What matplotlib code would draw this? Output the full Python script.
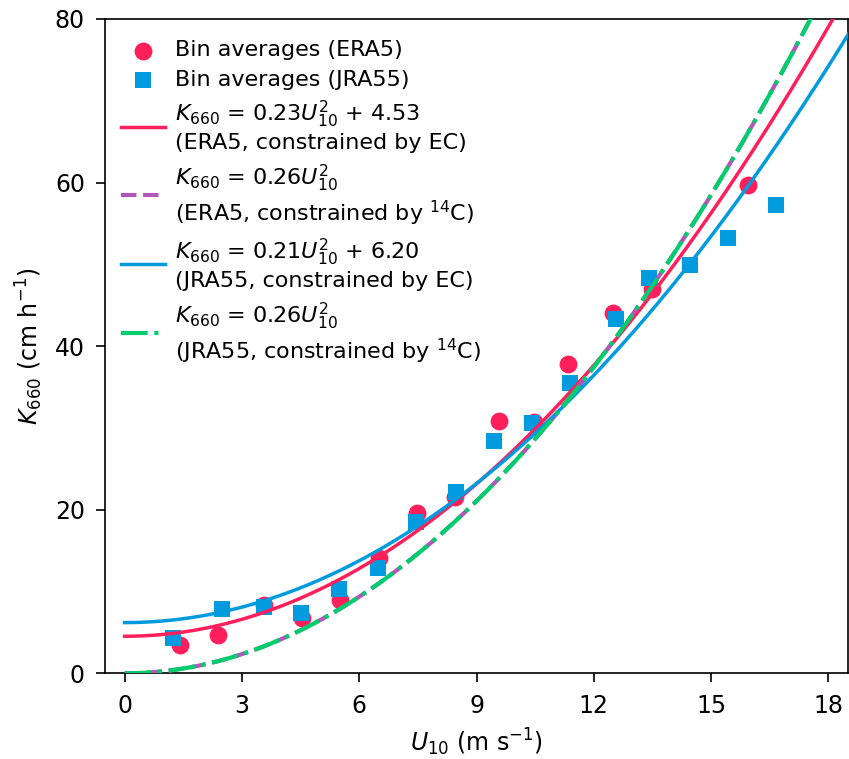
import numpy as np
import matplotlib
matplotlib.use("Agg")
import matplotlib.pyplot as plt

# Bin-averaged transfer velocities
u_era5 = [1.43, 2.38, 3.56, 4.54, 5.52, 6.50, 7.48, 8.46, 9.57, 10.46, 11.35, 12.50, 13.49, 15.95]
k_era5 = [3.46, 4.68, 8.35, 6.72, 8.96, 14.06, 19.56, 21.59, 30.84, 30.76, 37.77, 44.08, 46.94, 59.69]

u_jra55 = [1.24, 2.50, 3.56, 4.52, 5.49, 6.47, 7.46, 8.48, 9.46, 10.42, 11.39, 12.57, 13.40, 14.45, 15.44, 16.66]
k_jra55 = [4.28, 7.82, 8.14, 7.33, 10.27, 12.84, 18.53, 22.20, 28.44, 30.56, 35.53, 43.31, 48.36, 49.91, 53.18, 57.25]

# Quadratic fits K660 = a * U10^2 + b
fit_a = [0.23, 0.26, 0.21, 0.26]
fit_b = [4.53, 0.0, 6.20, 0.0]

C_RED = "#FF1F5B"
C_PURPLE = "#AF58BA"
C_BLUE = "#009ADE"
C_GREEN = "#00CD6C"

plt.rcParams["font.family"] = "DejaVu Sans"
plt.rcParams["mathtext.fontset"] = "dejavusans"

fig = plt.figure(figsize=(8.49, 7.59), dpi=100)
ax = fig.add_axes([0.1237, 0.1129, 0.8751, 0.8621])

u = np.linspace(0, 19, 400)

ax.scatter(u_era5, k_era5, s=165, marker="o", color=C_RED, lw=0,
           label="Bin averages (ERA5)", zorder=2)
ax.scatter(u_jra55, k_jra55, s=120, marker="s", color=C_BLUE, lw=0,
           label="Bin averages (JRA55)", zorder=2)

ax.plot(u, fit_a[0] * u**2 + fit_b[0], color=C_RED, lw=2.5,
        label="$K_{660}$ = 0.23$U_{10}^{2}$ + 4.53\n(ERA5, constrained by EC)", zorder=3)
ax.plot(u, fit_a[1] * u**2 + fit_b[1], color=C_PURPLE, lw=3, ls=(0, (3.7, 1.6)),
        label="$K_{660}$ = 0.26$U_{10}^{2}$\n(ERA5, constrained by $^{14}$C)", zorder=3)
ax.plot(u, fit_a[2] * u**2 + fit_b[2], color=C_BLUE, lw=2.5,
        label="$K_{660}$ = 0.21$U_{10}^{2}$ + 6.20\n(JRA55, constrained by EC)", zorder=3)
ax.plot(u, fit_a[3] * u**2 + fit_b[3], color=C_GREEN, lw=3, ls=(0, (6.4, 1.6, 1.0, 1.6)),
        label="$K_{660}$ = 0.26$U_{10}^{2}$\n(JRA55, constrained by $^{14}$C)", zorder=4)

ax.set_xlim(-0.5, 18.5)
ax.set_ylim(0, 80)
ax.set_xticks([0, 3, 6, 9, 12, 15, 18])
ax.set_yticks([0, 20, 40, 60, 80])
ax.tick_params(labelsize=17, length=6.5, width=1.2)
ax.tick_params(axis="x", pad=8.5)
ax.tick_params(axis="y", pad=8)
for sp in ax.spines.values():
    sp.set_linewidth(1.2)

ax.set_xlabel("$U_{10}$ (m s$^{-1}$)", fontsize=17, labelpad=6)
ax.set_ylabel("$K_{660}$ (cm h$^{-1}$)", fontsize=17, labelpad=7)

ax.legend(loc="upper left", bbox_to_anchor=(0, 0.991), frameon=False, fontsize=16,
          handlelength=2.0, labelspacing=0.42, handletextpad=0.45, borderaxespad=0.3)

fig.savefig("out.png", dpi=100)
